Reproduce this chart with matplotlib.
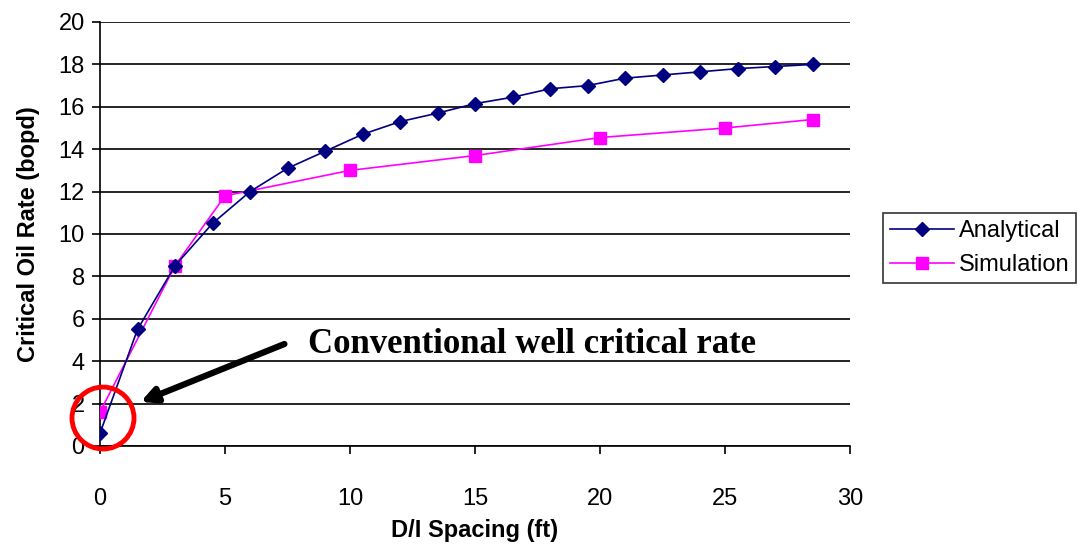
import matplotlib
matplotlib.use('Agg')
from matplotlib import pyplot as plt
from matplotlib.patches import Ellipse

# D/I spacing (ft) vs critical oil rate (bopd)
ana_x = [0, 1.5, 3, 4.5, 6, 7.5, 9, 10.5, 12, 13.5, 15, 16.5, 18, 19.5,
         21, 22.5, 24, 25.5, 27, 28.5]
ana_y = [0.6, 5.5, 8.5, 10.5, 12.0, 13.1, 13.9, 14.7, 15.3, 15.7, 16.15, 16.45,
         16.85, 17.0, 17.35, 17.5, 17.65, 17.8, 17.9, 18.0]
sim_x = [0, 3, 5, 10, 15, 20, 25, 28.5]
sim_y = [1.6, 8.5, 11.8, 13.0, 13.7, 14.55, 15.0, 15.4]

plt.rcParams['font.family'] = ['Liberation Sans', 'DejaVu Sans']

fig = plt.figure(figsize=(10.82, 5.5), dpi=100)
ax = fig.add_axes([100/1082, 104/550, 750/1082, 424/550])

ax.plot(ana_x, ana_y, color='#000080', linewidth=1.2, marker='D', markersize=7,
        label='Analytical', zorder=4)
ax.plot(sim_x, sim_y, color='#ff00ff', linewidth=1.2, marker='s', markersize=8,
        label='Simulation', zorder=3)

ax.set_xlim(0, 30)
ax.set_ylim(0, 20)
ax.set_xticks(range(0, 31, 5))
ax.set_yticks(range(0, 21, 2))
ax.yaxis.grid(True, color='black', linewidth=1.2)
ax.set_axisbelow(True)
for s in ['top', 'right']:
    ax.spines[s].set_visible(False)
for s in ['left', 'bottom']:
    ax.spines[s].set_color('black')
    ax.spines[s].set_linewidth(1.2)
ax.tick_params(direction='out', length=6, width=1.2, labelsize=17, pad=5)
ax.tick_params(axis='x', pad=24)

ax.set_xlabel('D/I Spacing (ft)', fontsize=17, fontweight='bold', labelpad=7)
ax.set_ylabel('Critical Oil Rate (bopd)', fontsize=17, fontweight='bold', labelpad=13)

# annotation
ax.text(8.32, 4.39, 'Conventional well critical rate', fontsize=25,
        fontweight='bold', family=['Liberation Serif', 'DejaVu Serif'],
        va='baseline', ha='left')
ax.annotate('', xy=(1.52, 2.03), xytext=(7.48, 4.86),
            arrowprops=dict(arrowstyle='-|>,head_length=0.9,head_width=0.45',
                            color='black', linewidth=4.5))
ax.add_patch(Ellipse((0.12, 1.32), 2.48, 2.92, fill=False, edgecolor='#ff0000',
                     linewidth=3.5, clip_on=False, zorder=5))

leg = fig.legend(loc='center left', bbox_to_anchor=(883/1082, 1 - 248/550),
                 fontsize=17, frameon=True, fancybox=False, handlelength=2.7,
                 borderpad=0.3, labelspacing=0.5, handletextpad=0.2,
                 borderaxespad=0)
leg.get_frame().set_edgecolor('black')
leg.get_frame().set_linewidth(1.2)

fig.savefig('out.png', dpi=100)
